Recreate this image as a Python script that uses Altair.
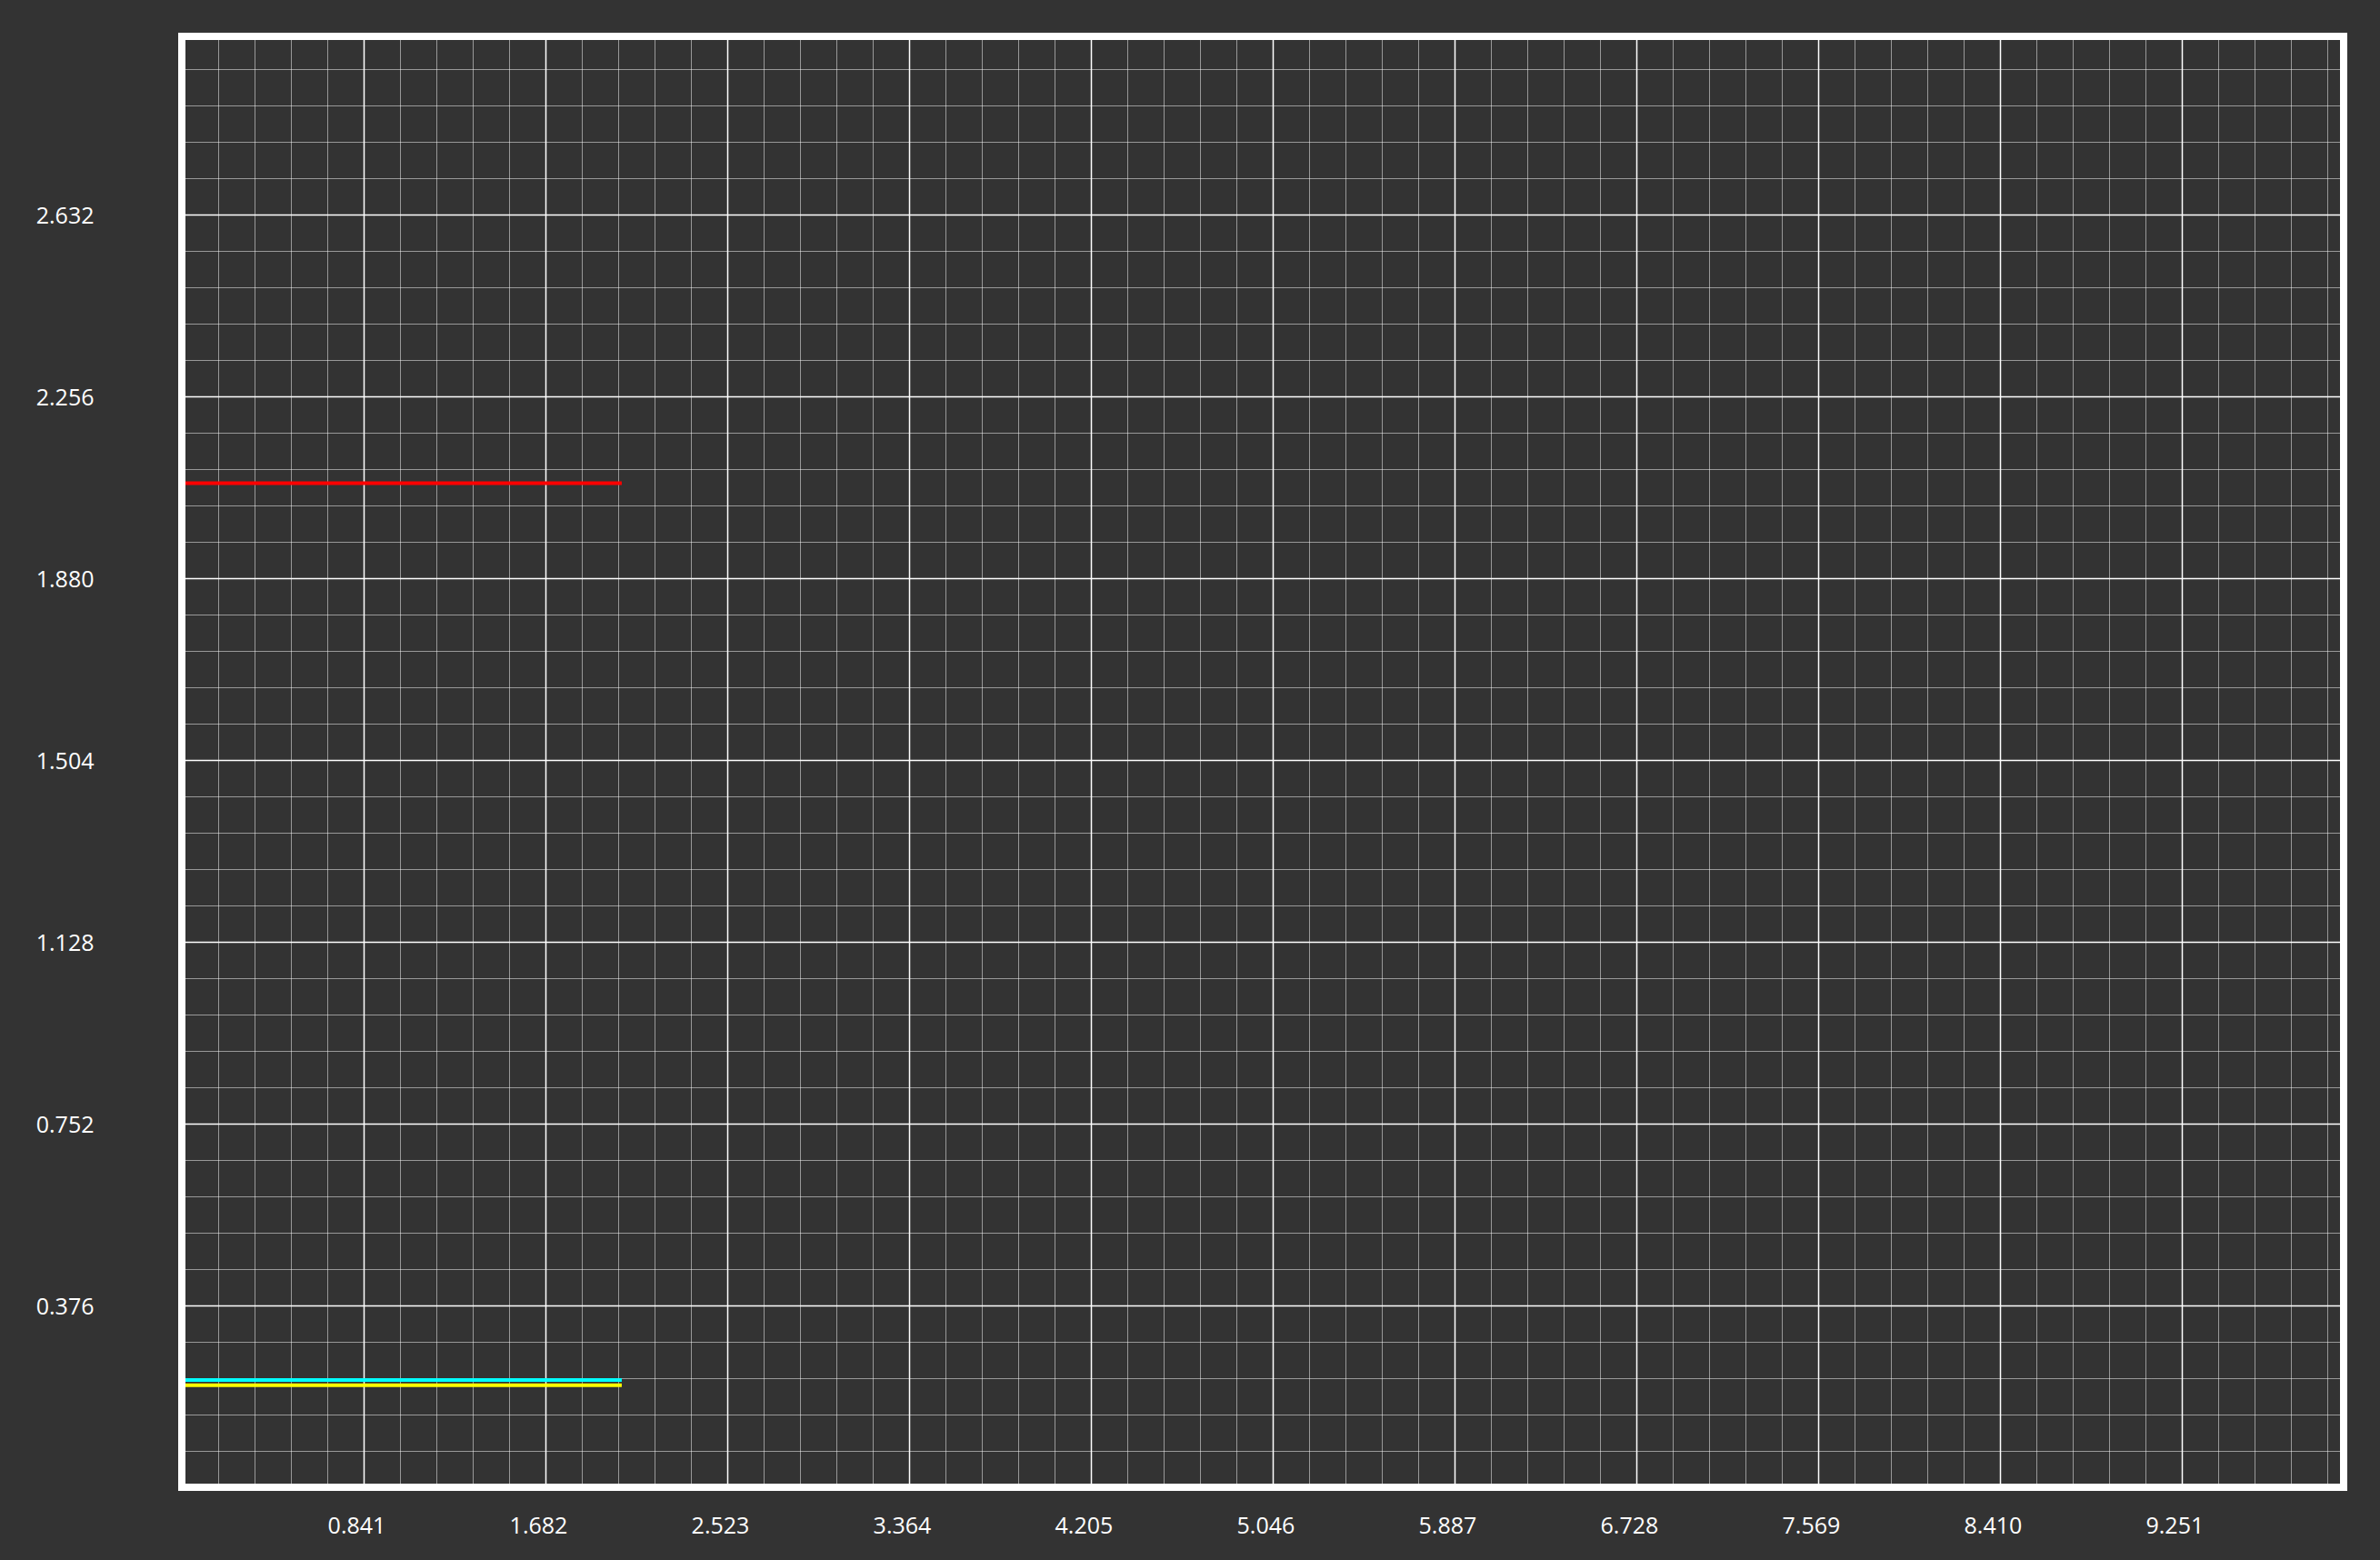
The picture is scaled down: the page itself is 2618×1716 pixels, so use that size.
import altair as alt
import pandas as pd

# ---- data ----
x_points = [0.0, 2.035]
red_values = [2.076, 2.076]
cyan_values = [0.222, 0.222]
yellow_values = [0.211, 0.211]
series_names = ["Red", "Cyan", "Yellow"]
series_colors = ["#ff0000", "#00ffff", "#ffff00"]

x_tick_labels = [0.841, 1.682, 2.523, 3.364, 4.205, 5.046, 5.887, 6.728, 7.569, 8.410, 9.251]
y_tick_labels = [0.376, 0.752, 1.128, 1.504, 1.880, 2.256, 2.632]
x_domain = [0, 10]
y_domain = [0, 3]
x_minor_step = 0.1682
y_minor_step = 0.0752
x_minor = [round(x_minor_step * k, 4) for k in range(1, 60) if k % 5]
y_minor = [round(y_minor_step * k, 4) for k in range(1, 40) if k % 5]

rows = []
for name, vals in zip(series_names, [red_values, cyan_values, yellow_values]):
    for xv, yv in zip(x_points, vals):
        rows.append({"series": name, "x": xv, "y": yv})
df = pd.DataFrame(rows)

W, H = 2378, 1596
BG = "#333333"
FONT = "Open Sans"
FS = 25

# dark page background around the chart (the page margin)
try:
    import altair.utils.html as _ah
    _tmpl = _ah.TEMPLATES["standard"]
    _orig_render = _tmpl.render

    def _render(*a, **k):
        out = _orig_render(*a, **k)
        return out.replace("</head>", "<style>html,body{background:#333333;}</style>\n</head>", 1)

    _tmpl.render = _render
except Exception:
    pass

xs = alt.Scale(domain=x_domain, nice=False, zero=False)
ys = alt.Scale(domain=y_domain, nice=False, zero=False)

base = alt.Chart(df)

minor = base.mark_point(opacity=0).encode(
    x=alt.X("x:Q", scale=xs, axis=alt.Axis(
        values=x_minor, orient="top", grid=True, gridColor="white",
        gridDash=[1, 1], gridWidth=1, gridOpacity=1, labels=False,
        ticks=False, domain=False, title=None)),
    y=alt.Y("y:Q", scale=ys, axis=alt.Axis(
        values=y_minor, orient="right", grid=True, gridColor="white",
        gridDash=[1, 1], gridWidth=1, gridOpacity=1, labels=False,
        ticks=False, domain=False, title=None)),
)

lines = base.mark_line(strokeWidth=4, strokeCap="butt", clip=True).encode(
    x=alt.X("x:Q", scale=xs, axis=alt.Axis(
        values=x_tick_labels, format=".3f", orient="bottom", grid=True,
        gridColor="white", gridWidth=1.5, gridOpacity=1, domain=False,
        ticks=False, tickSize=0, labelColor="white", labelFont=FONT,
        labelFontSize=FS, labelPadding=42, labelBaseline="middle",
        labelOffset=-8, labelFlush=False, labelOverlap=False, title=None)),
    y=alt.Y("y:Q", scale=ys, axis=alt.Axis(
        values=y_tick_labels, format=".3f", orient="left", grid=True,
        gridColor="white", gridWidth=1.5, gridOpacity=1, domain=False,
        ticks=False, tickSize=0, labelColor="white", labelFont=FONT,
        labelFontSize=FS, labelPadding=97, labelAlign="right",
        labelBaseline="middle", labelOffset=2, labelFlush=False,
        labelOverlap=False, title=None)),
    color=alt.Color("series:N", scale=alt.Scale(domain=series_names, range=series_colors), legend=None),
    detail="series:N",
)

frame = alt.Chart(pd.DataFrame({"f": [0]})).mark_rect(
    filled=False, stroke="white", strokeWidth=8
).encode(x=alt.value(0), x2=alt.value(W), y=alt.value(0), y2=alt.value(H))

chart = alt.layer(minor, lines, frame).resolve_axis(
    x="independent", y="independent"
).properties(
    width=W, height=H, background=BG,
    padding={"left": 192, "top": 32, "right": 32, "bottom": 72},
    autosize=alt.AutoSizeParams(type="none"),
).configure_view(stroke="transparent")

chart.save("out.html", embed_options={"renderer": "svg", "actions": False})
